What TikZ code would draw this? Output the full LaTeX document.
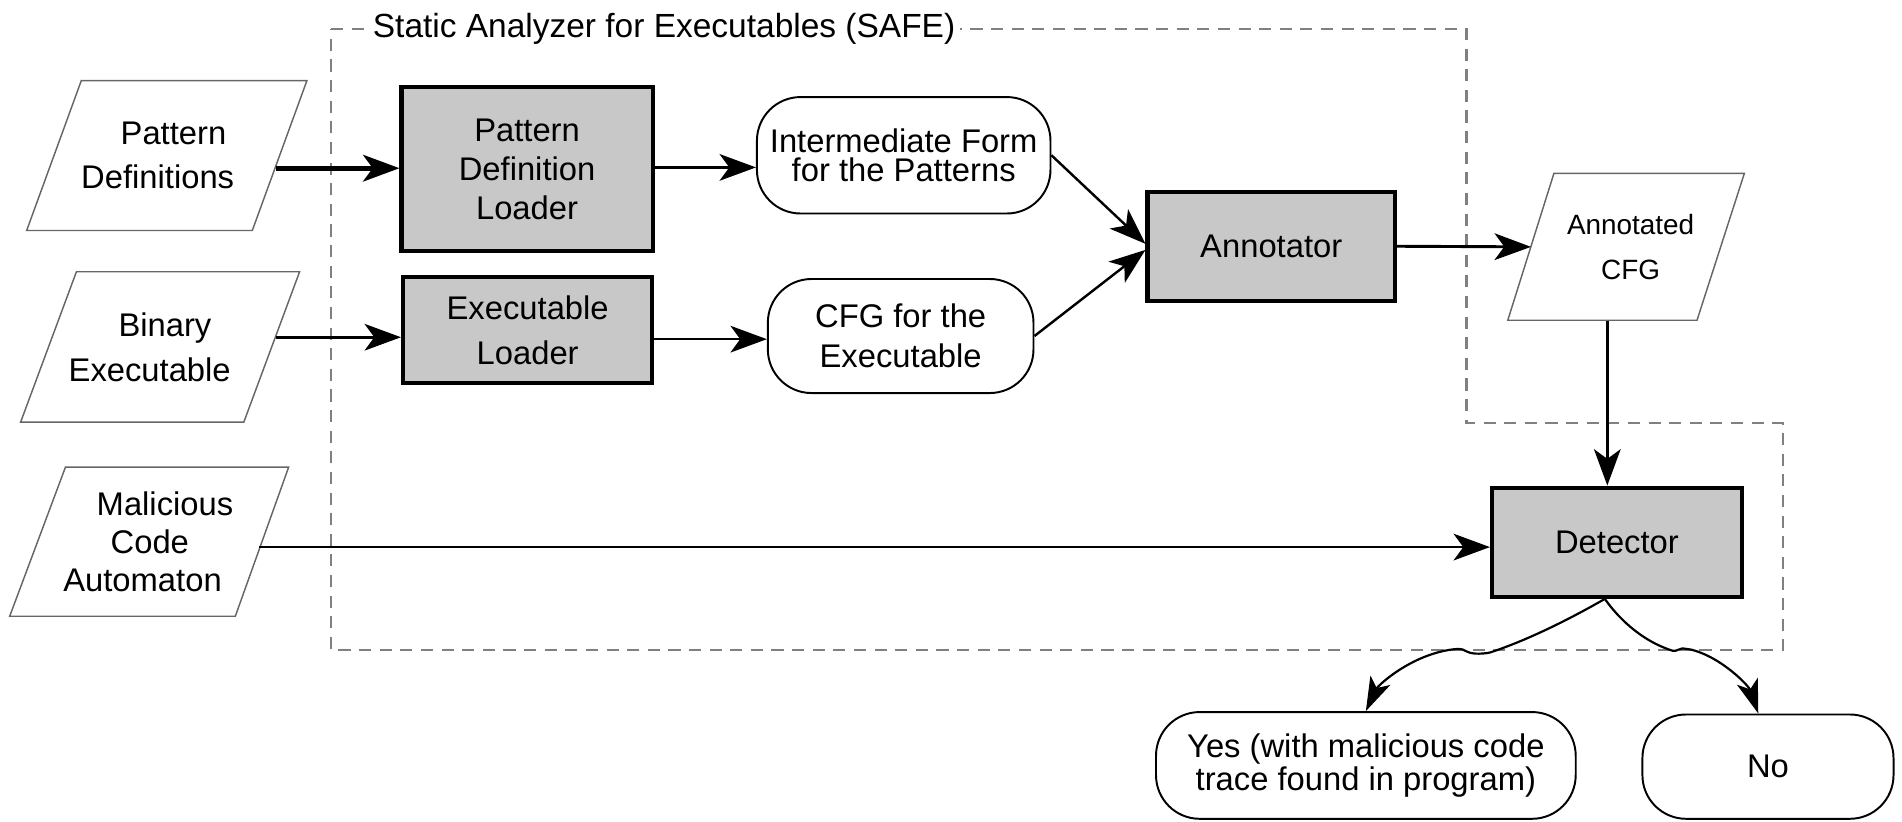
\documentclass[tikz,border=0pt]{standalone}
\usepackage{fontspec}
\setmainfont{Liberation Sans}
\usetikzlibrary{arrows.meta}
\definecolor{boxgray}{HTML}{C8C8C8}
\definecolor{dashgray}{HTML}{808080}
\newcommand{\lineat}[2]{\makebox[0pt]{\hspace*{#1}#2}}
\begin{document}
\begin{tikzpicture}[x=0.5pt,y=-0.5pt,
  every node/.style={font=\fontsize{13.5}{16}\selectfont, inner sep=0pt},
  procbox/.style={draw, line width=1.7pt, fill=boxgray, align=center},
  termbox/.style={draw, line width=0.8pt, rounded corners=18pt, align=center},
  iotext/.style={align=center},
  ioshape/.style={draw=black!60, line width=0.6pt},
  arr/.style={-{Stealth[length=15pt,width=11pt,inset=4pt]}, line width=1pt},
  arrc/.style={-{Stealth[length=14pt,width=9pt,inset=3.5pt]}, line width=0.9pt},
  safebox/.style={draw=dashgray, line width=0.9pt, dash pattern=on 5pt off 3.5pt}
]
\useasboundingbox (0,0) rectangle (1568,677);

% SAFE region
\draw[safebox] (273,24) -- (1209,24) -- (1209,349) -- (1470,349) -- (1470,536) -- (273,536) -- cycle;
\node[anchor=west, fill=white, inner xsep=2pt, inner ysep=1pt, font=\fontsize{13.8}{16}\selectfont] (title) at (303,24) {Static Analyzer for Executables (SAFE)};

% input / output parallelograms
\draw[ioshape] (67,66.5) -- (253,66.5) -- (208,190) -- (22,190) -- cycle;
\node[iotext, minimum width=89.3pt, minimum height=61.75pt, font=\fontsize{13.5}{17.9}\selectfont] (pd) at (137.5,128.25) {\lineat{5.5pt}{Pattern}\\\lineat{-7.5pt}{Definitions}};

\draw[ioshape] (63,224) -- (247,224) -- (201,348) -- (17,348) -- cycle;
\node[iotext, minimum width=95pt, minimum height=62pt, font=\fontsize{13.5}{18.5}\selectfont] (be) at (132,286) {\lineat{4pt}{Binary}\\\lineat{-8.6pt}{Executable}};

\draw[ioshape] (54,385) -- (238,385) -- (194,508) -- (8,508) -- cycle;
\node[iotext, minimum width=89.8pt, minimum height=61.5pt, font=\fontsize{13.5}{15.7}\selectfont] (mca) at (123.5,446.5) {\lineat{12.5pt}{Malicious}\\\lineat{0pt}{Code}\\\lineat{-6pt}{Automaton}};

\draw[ioshape] (1281,143) -- (1438,143) -- (1399,264) -- (1243,264) -- cycle;
\node[iotext, minimum width=77.75pt, minimum height=60.5pt, font=\fontsize{11.5}{18.5}\selectfont] (acfg) at (1340.25,203.5) {\lineat{4pt}{Annotated}\\\lineat{4pt}{CFG}};

% processing boxes
\node[procbox, minimum width=103.5pt, minimum height=67.5pt] (pdl) at (434.5,139.5) {Pattern\\Definition\\Loader};
\node[procbox, minimum width=102.75pt, minimum height=44pt, font=\fontsize{13.5}{18.5}\selectfont] (el) at (435,272) {Executable\\Loader};
\node[procbox, minimum width=102pt, minimum height=45pt] (ann) at (1048,203) {Annotator};
\node[procbox, minimum width=103pt, minimum height=45pt] (det) at (1333,447) {Detector};

% rounded data nodes
\node[termbox, minimum width=121pt, minimum height=48pt, font=\fontsize{13.5}{12}\selectfont] (ifp) at (745,128) {Intermediate Form\\for the Patterns};
\node[termbox, minimum width=109.5pt, minimum height=47pt, font=\fontsize{13.5}{16.5}\selectfont] (cfg) at (742.5,277) {CFG for the\\Executable};
\node[termbox, minimum width=173pt, minimum height=44pt, font=\fontsize{13.5}{12.5}\selectfont] (yes) at (1126,631) {Yes (with malicious code\\trace found in program)};
\node[termbox, minimum width=103.5pt, minimum height=43pt] (no) at (1457.5,632) {No};

% connectors
\draw[arr, line width=1.9pt] ([yshift=-5.2pt]pd.east) -- ([yshift=-5.2pt]pd.east -| pdl.west);
\draw[arr, line width=1.1pt] ([yshift=4pt]be.east) -- ([yshift=4pt]be.east -| el.west);
\draw[arr] ([yshift=0.75pt]pdl.east) -- ([yshift=0.75pt]pdl.east -| ifp.west);
\draw[arr] ([yshift=-3.8pt]el.east) -- ([yshift=-3.8pt]el.east -| cfg.west);
\draw[arr] (ifp.east) -- ([yshift=1pt]ann.west);
\draw[arr] (cfg.east) -- ([yshift=-1.5pt]ann.west);
\draw[arr, line width=1.2pt] (ann.east) -- (acfg.west);
\draw[arr] ([xshift=-7.6pt]acfg.south) -- ([xshift=-7.6pt]acfg.south |- det.north);
\draw[arr] ([yshift=-2.25pt]mca.east) -- ([yshift=-2.25pt]mca.east -| det.west);

\draw[arrc] ([xshift=-5pt]det.south) .. controls (1300,507) and (1262,527) .. (1228,538)
  .. controls (1220,539.5) and (1212,539) .. (1209,537)
  .. controls (1207,535.5) and (1205,535) .. (1201,535)
  .. controls (1165,538) and (1136,565) .. (yes.north);
\draw[arrc] ([xshift=-5pt]det.south) .. controls (1333,508) and (1352,528) .. (1379,536.5)
  .. controls (1383,537) and (1384,534.5) .. (1387,534.5)
  .. controls (1390,534.5) and (1391,535) .. (1394,535.5)
  .. controls (1420,542) and (1442,566) .. ([xshift=-4pt]no.north);
\end{tikzpicture}
\end{document}
